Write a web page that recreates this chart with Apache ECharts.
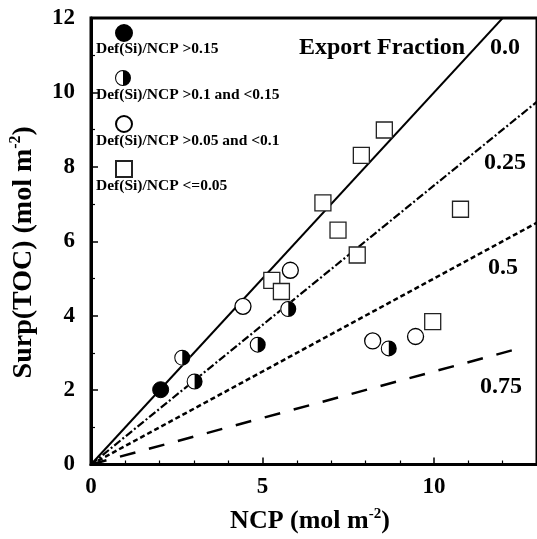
<!DOCTYPE html>
<html>
<head>
<meta charset="utf-8">
<script src="https://cdn.jsdelivr.net/npm/echarts@6/dist/echarts.min.js"></script>
<style>
html, body { margin: 0; padding: 0; background: #fff; }
#chart { width: 537px; height: 539px; }
</style>
</head>
<body>
<div id="chart"></div>
<script>
// Silicate-deficit classes (legend order)
const groupNames = [
  'Def(Si)/NCP >0.15',
  'Def(Si)/NCP >0.1 and <0.15',
  'Def(Si)/NCP >0.05 and <0.1',
  'Def(Si)/NCP <=0.05'
];

// Observations: [NCP, Surp(TOC)] in mol m-2
const filledPts = [[2.03, 2.01]];
const halfPts = [[2.66, 2.87], [3.02, 2.23], [4.86, 3.22], [5.75, 4.18], [8.68, 3.12]];
const openPts = [[4.43, 4.25], [5.81, 5.22], [8.21, 3.32], [9.46, 3.44]];
const squarePts = [[8.55, 8.99], [7.88, 8.31], [6.76, 7.03], [7.20, 6.30], [7.76, 5.63],
                   [5.27, 4.95], [5.55, 4.65], [10.77, 6.86], [9.96, 3.84]];

// Reference lines for each export fraction
const exportFractions = ['0.0', '0.25', '0.5', '0.75'];
const line00 = [[0, 0], [13, 13]];
const line25 = [[0, 0], [13, 9.75]];
const line50 = [[0, 0], [13, 6.5]];
const line75 = [[0, 0], [12.5, 3.125]];

// Axis ranges / tick steps
const xRange = [0, 13];
const xStep = 5;
const yRange = [0, 12];
const yStep = 2;

const SERIF = '"Liberation Serif", "Times New Roman", serif';

// Circle with its right half filled (outer ring + right half disc)
const halfCircle = 'path://M100,0 A100,100 0 0 1 100,200 A100,100 0 0 1 100,0 ' +
                   'L100,13 A87,87 0 0 0 100,187 L100,13 Z';

const chart = echarts.init(document.getElementById('chart'));

const lineSeries = (data, width, type) => ({
  type: 'line', data: data, symbol: 'none', silent: true,
  lineStyle: { color: '#000', width: width, type: type },
  z: 1
});

const legendTops = [24, 70, 115, 160];
const labelYs = [49, 95, 141, 186];

const option = {
  animation: false,
  backgroundColor: '#fff',
  grid: {
    left: 90, top: 18, right: -5, bottom: 68,
    show: true, borderColor: '#000', borderWidth: 3
  },
  xAxis: {
    type: 'value', min: xRange[0], max: xRange[1], interval: xStep,
    axisLine: { lineStyle: { color: '#000', width: 3 } },
    axisTick: { inside: true, length: 7, lineStyle: { color: '#000', width: 1.5 } },
    minorTick: { show: true, splitNumber: 5, length: 4, lineStyle: { color: '#000', width: 1.2 } },
    splitLine: { show: false },
    axisLabel: {
      color: '#000', fontFamily: SERIF, fontWeight: 'bold', fontSize: 23,
      margin: 11, showMaxLabel: false
    },
    name: 'NCP (mol m{sup|-2})',
    nameLocation: 'middle', nameGap: 42,
    nameTextStyle: {
      color: '#000', fontFamily: SERIF, fontWeight: 'bold', fontSize: 26,
      padding: [0, 8, 0, 0],
      rich: { sup: { fontFamily: SERIF, fontWeight: 'bold', fontSize: 15, padding: [0, 0, 14, 0] } }
    }
  },
  yAxis: {
    type: 'value', min: yRange[0], max: yRange[1], interval: yStep,
    axisLine: { lineStyle: { color: '#000', width: 3 } },
    axisTick: { inside: true, length: 7, lineStyle: { color: '#000', width: 1.5 } },
    minorTick: { show: true, splitNumber: 2, length: 4, lineStyle: { color: '#000', width: 1.2 } },
    splitLine: { show: false },
    axisLabel: {
      color: '#000', fontFamily: SERIF, fontWeight: 'bold', fontSize: 23, margin: 16
    },
    name: 'Surp(TOC) (mol m{sup|-2})',
    nameLocation: 'middle', nameGap: 52,
    nameTextStyle: {
      color: '#000', fontFamily: SERIF, fontWeight: 'bold', fontSize: 28,
      padding: [0, 22, 0, 0],
      rich: { sup: { fontFamily: SERIF, fontWeight: 'bold', fontSize: 16, padding: [0, 0, 15, 0] } }
    }
  },
  legend: groupNames.map((n, i) => ({
    data: [n], left: 115, top: legendTops[i], padding: 0,
    itemWidth: 16, itemHeight: 16, selectedMode: false,
    formatter: () => '', textStyle: { fontSize: 1 }
  })),
  graphic: [
    ...groupNames.map((n, i) => ({
      type: 'text', x: 96, y: labelYs[i], silent: true,
      style: {
        text: n, fill: '#000', font: 'bold 15.5px ' + SERIF,
        align: 'left', verticalAlign: 'middle',
        textAlign: 'left', textVerticalAlign: 'middle'
      }
    })),
    {
      type: 'text', x: 299, y: 48, silent: true,
      style: { text: 'Export Fraction', fill: '#000', font: 'bold 24px ' + SERIF,
               verticalAlign: 'middle', textVerticalAlign: 'middle' }
    },
    ...exportFractions.map((t, i) => ({
      type: 'text', x: [490, 484, 488, 480][i], y: [48, 163, 268, 387][i], silent: true,
      style: { text: t, fill: '#000', font: 'bold 24px ' + SERIF,
               verticalAlign: 'middle', textVerticalAlign: 'middle' }
    }))
  ],
  series: [
    lineSeries(line00, 2, 'solid'),
    lineSeries(line25, 2.2, [8, 2.5, 2, 2.5]),
    lineSeries(line50, 2.5, [5, 3]),
    lineSeries(line75, 2.5, [16, 14]),
    {
      name: groupNames[0], type: 'scatter', data: filledPts,
      symbol: 'circle', symbolSize: 16,
      itemStyle: { color: '#000', borderColor: '#000', borderWidth: 1, opacity: 1 }
    },
    {
      name: 'half-base', type: 'scatter', data: halfPts, silent: true,
      symbol: 'circle', symbolSize: 16,
      itemStyle: { color: '#fff', opacity: 1 }
    },
    {
      name: groupNames[1], type: 'scatter', data: halfPts,
      symbol: halfCircle, symbolSize: 16,
      itemStyle: { color: '#000', opacity: 1 }
    },
    {
      name: groupNames[2], type: 'scatter', data: openPts,
      symbol: 'circle', symbolSize: 16,
      itemStyle: { color: '#fff', borderColor: '#000', borderWidth: 1.3, opacity: 1 }
    },
    {
      name: groupNames[3], type: 'scatter', data: squarePts,
      symbol: 'rect', symbolSize: 16,
      itemStyle: { color: '#fff', borderColor: '#222', borderWidth: 1.3, opacity: 1 }
    }
  ]
};

chart.setOption(option);
</script>
</body>
</html>
